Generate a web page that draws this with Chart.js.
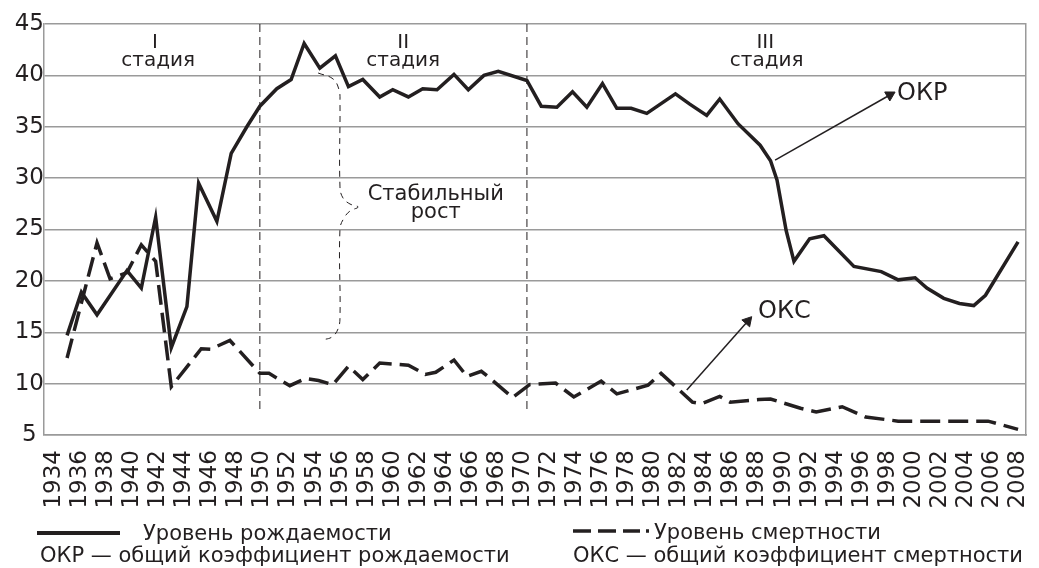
<!DOCTYPE html>
<html>
<head>
<meta charset="utf-8">
<script src="https://cdn.jsdelivr.net/npm/chart.js@4.4.0/dist/chart.umd.min.js"></script>
<style>
  html, body { margin: 0; padding: 0; background: #fff; }
  #wrap { position: relative; width: 1039px; height: 568px; overflow: hidden; }
  #c { position: absolute; left: 0; top: 0; }
  .lg { position: absolute; font-family: 'DejaVu Sans', sans-serif; font-size: 21px; line-height: 21px; color: #231f20; white-space: nowrap; }
</style>
</head>
<body>
<div id="wrap">
  <canvas id="c" width="1039" height="568"></canvas>
  <div class="lg" style="left:37px; top:531px; width:83px; height:3.5px; background:#231f20;"></div>
  <div class="lg" style="left:143px; top:523px;">Уровень рождаемости</div>
  <div class="lg" style="left:40px; top:545px;">ОКР — общий коэффициент рождаемости</div>
  <svg class="lg" style="left:573px; top:526px;" width="80" height="10"><line x1="0" y1="5" x2="78" y2="5" stroke="#231f20" stroke-width="3.5" stroke-dasharray="18 7 18 7 17 6 3 100"/></svg>
  <div class="lg" style="left:654px; top:522px;">Уровень смертности</div>
  <div class="lg" style="left:573px; top:545px;">ОКС — общий коэффициент смертности</div>
</div>
<script>
// ---- data ----
const tickYears = [1934,1936,1938,1940,1942,1944,1946,1948,1950,1952,1954,1956,1958,1960,1962,1964,1966,1968,1970,1972,1974,1976,1978,1980,1982,1984,1986,1988,1990,1992,1994,1996,1998,2000,2002,2004,2006,2008];
const tickLabels = tickYears.map(String);
const yTicks = [5,10,15,20,25,30,35,40,45];

// Уровень рождаемости (ОКР)
const birthYears = [1935.0,1936.1,1937.3,1939.6,1940.7,1941.8,1943.0,1944.2,1945.1,1946.5,1947.6,1948.8,1949.8,1951.1,1952.2,1953.2,1954.4,1955.6,1956.6,1957.7,1959.0,1960.0,1961.2,1962.3,1963.4,1964.7,1965.8,1967.0,1968.1,1970.3,1971.4,1972.6,1973.8,1974.9,1976.1,1977.2,1978.3,1979.5,1981.7,1982.8,1984.1,1985.1,1986.5,1988.2,1989.0,1989.5,1990.2,1990.8,1992.0,1993.1,1995.4,1997.5,1998.8,2000.1,2001.0,2002.3,2003.5,2004.6,2005.5,2008.0];
const birthRate  = [14.7,18.9,16.7,21.0,19.3,26.2,13.5,17.5,29.5,25.8,32.4,35.0,37.0,38.7,39.6,43.1,40.7,41.9,38.9,39.6,37.9,38.6,37.9,38.7,38.6,40.1,38.6,40.0,40.4,39.5,37.0,36.9,38.4,36.9,39.2,36.8,36.8,36.3,38.2,37.2,36.1,37.7,35.3,33.2,31.7,29.8,24.9,21.9,24.1,24.4,21.4,20.9,20.1,20.3,19.3,18.3,17.8,17.6,18.6,23.8];

// Уровень смертности (ОКС)
const deathYears = [1935.0,1937.3,1938.3,1939.6,1940.7,1941.8,1943.0,1945.3,1946.0,1947.5,1949.8,1950.5,1952.1,1953.3,1954.3,1955.4,1956.6,1957.7,1959.0,1961.2,1962.5,1963.3,1964.7,1965.7,1966.8,1967.4,1969.2,1970.5,1972.5,1973.9,1976.0,1977.2,1979.6,1980.6,1983.0,1983.7,1985.1,1985.9,1988.1,1989.0,1991.3,1992.5,1994.5,1996.3,1998.8,2005.7,2008.0];
const deathRate  = [12.5,23.7,20.2,20.8,23.5,21.9,9.7,13.4,13.35,14.2,11.0,11.0,9.8,10.5,10.3,9.9,11.7,10.4,12.0,11.8,10.9,11.1,12.3,10.7,11.2,10.6,8.65,9.9,10.05,8.7,10.25,9.0,9.85,11.0,8.2,8.05,8.75,8.2,8.45,8.5,7.6,7.25,7.75,6.75,6.35,6.35,5.55];

// stage borders (years) and their vertical extent
const stageYears = [1949.8, 1970.3];
const stageSpan = [45, 7.2];

// curly brace "Стабильный рост" (year, value)
const braceYears = [1954.27,1955.42,1955.88,1955.95,1955.95,1956.18,1956.72,1957.34,1956.72,1956.26,1955.95,1955.95,1955.80,1955.34,1954.57];
const braceVals  = [40.23,39.65,38.58,37.41,29.14,28.07,27.48,27.19,26.80,26.12,25.05,16.39,15.32,14.54,14.25];

// arrows: [startYear, startVal, endYear, endVal]
const arrowOKR = [1989.35, 31.76, 1998.16, 38.09];
const arrowOKC = [1982.57, 9.38, 1987.25, 16.08];

const notes = [
  { text: 'I',          x: 1941.75, y: 42.66, size: 20, align: 'center' },
  { text: 'стадия',     x: 1942.0,  y: 40.91, size: 20, align: 'center' },
  { text: 'II',         x: 1960.8,  y: 42.66, size: 20, align: 'center' },
  { text: 'стадия',     x: 1960.8,  y: 40.91, size: 20, align: 'center' },
  { text: 'III',        x: 1988.6,  y: 42.66, size: 20, align: 'center' },
  { text: 'стадия',     x: 1988.7,  y: 40.91, size: 20, align: 'center' },
  { text: 'Стабильный', x: 1963.3,  y: 27.87, size: 21, align: 'center' },
  { text: 'рост',       x: 1963.3,  y: 26.09, size: 21, align: 'center' },
  { text: 'ОКР',        x: 1998.71, y: 37.6,  size: 24, align: 'left' },
  { text: 'ОКС',        x: 1988.04, y: 16.39, size: 24, align: 'left' }
];

// ---- chart ----
const BLACK = '#231f20';
const GRID = '#9a9a9a';
Chart.defaults.font.family = "'DejaVu Sans', sans-serif";
Chart.defaults.color = BLACK;

const pts = (xs, ys) => xs.map((x, i) => ({ x: x, y: ys[i] }));
const arrowDs = (a, rot) => ({
  data: [{ x: a[0], y: a[1] }, { x: a[2], y: a[3] }],
  borderColor: BLACK, borderWidth: 1.5,
  pointRadius: [0, 6], pointStyle: 'triangle', pointRotation: [0, rot],
  pointBackgroundColor: BLACK, pointBorderColor: BLACK, pointBorderWidth: 1
});

const datasets = [
  { label: 'Уровень рождаемости', data: pts(birthYears, birthRate), borderColor: BLACK, borderWidth: 3.5, pointRadius: 0, tension: 0 },
  { label: 'Уровень смертности', data: pts(deathYears, deathRate), borderColor: BLACK, borderWidth: 3.5, borderDash: [20, 8], pointRadius: 0, tension: 0 },
  ...stageYears.map(x => ({ data: [{ x: x, y: stageSpan[0] }, { x: x, y: stageSpan[1] }], borderColor: BLACK, borderWidth: 1, borderDash: [8, 5], pointRadius: 0 })),
  { data: pts(braceYears, braceVals), borderColor: BLACK, borderWidth: 1, borderDash: [6, 5], pointRadius: 0, tension: 0.4 },
  arrowDs(arrowOKR, 60.5),
  arrowDs(arrowOKC, 41.6)
];

const notesPlugin = {
  id: 'notes',
  afterDraw(chart) {
    const ctx = chart.ctx, xs = chart.scales.x, ys = chart.scales.y;
    ctx.save();
    ctx.fillStyle = BLACK;
    ctx.textBaseline = 'alphabetic';
    notes.forEach(n => {
      ctx.font = n.size + "px 'DejaVu Sans'";
      ctx.textAlign = n.align;
      ctx.fillText(n.text, xs.getPixelForValue(n.x), ys.getPixelForValue(n.y));
    });
    ctx.restore();
  }
};

new Chart(document.getElementById('c'), {
  type: 'line',
  data: { datasets: datasets },
  plugins: [notesPlugin],
  options: {
    responsive: false,
    animation: false,
    events: [],
    layout: { padding: { left: 0, right: 13, top: 24, bottom: 43 } },
    plugins: { legend: { display: false }, tooltip: { enabled: false }, title: { display: false } },
    scales: {
      x: {
        type: 'linear', min: 1933.23, max: 2008.61, bounds: 'data',
        afterBuildTicks: s => { s.ticks = tickYears.map(v => ({ value: v })); },
        afterFit: s => { s.height = 90; s.paddingLeft = 0; s.paddingRight = 0; },
        ticks: {
          autoSkip: false, maxRotation: 90, minRotation: 90, padding: 15,
          font: { size: 23 }, color: BLACK,
          callback: v => { const i = tickYears.indexOf(v); return i >= 0 ? tickLabels[i] : ''; }
        },
        grid: { display: false, drawTicks: false },
        border: { display: true, color: GRID, width: 1.5 }
      },
      y: {
        type: 'linear', min: 5, max: 45,
        afterBuildTicks: s => { s.ticks = yTicks.map(v => ({ value: v })); },
        afterFit: s => { s.width = 44; s.paddingTop = 0; s.paddingBottom = 0; },
        ticks: { font: { size: 23 }, color: BLACK, crossAlign: 'center', padding: 0, callback: v => String(v) },
        grid: { color: GRID, lineWidth: 1.5, drawTicks: false },
        border: { display: true, color: GRID, width: 1.5 }
      },
      yR: {
        type: 'linear', position: 'right', min: 5, max: 45,
        afterFit: s => { s.width = 0; s.paddingTop = 0; s.paddingBottom = 0; },
        ticks: { display: false },
        grid: { display: false, drawTicks: false },
        border: { display: true, color: GRID, width: 1.5 }
      }
    }
  }
});
</script>
</body>
</html>
